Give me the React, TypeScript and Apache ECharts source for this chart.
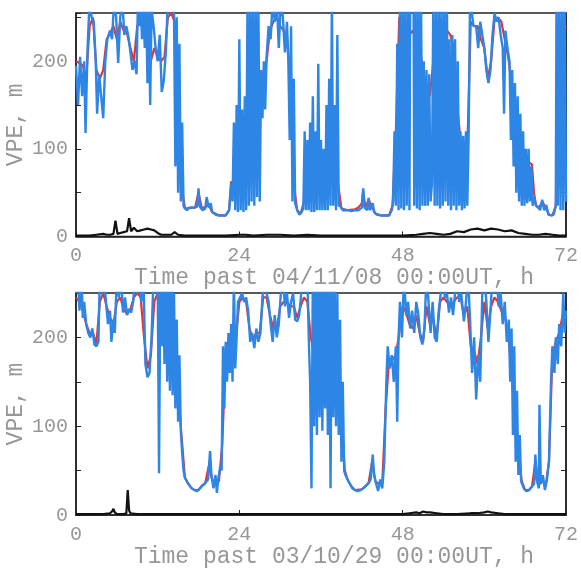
import React, { useEffect, useRef } from "react";
import * as echarts from "echarts";

const xTicks = [0, 24, 48, 72];
const xNames = ["Time past 04/11/08 00:00UT, h", "Time past 03/10/29 00:00UT, h"];
const yName = "VPE, m";

const blueTop: [number, number][] = [[0,195],[0.3,150],[0.6,205],[0.9,160],[1.2,200],[1.4,118],[1.7,215],[2.0,270],[2.3,250],[2.6,245],[2.9,200],[3.1,140],[3.4,185],[3.7,160],[4.0,135],[4.3,200],[4.6,225],[5.0,235],[5.3,225],[5.6,270],[5.9,250],[6.2,198],[6.5,250],[6.8,270],[7.1,230],[7.4,240],[7.7,228],[8.0,210],[8.3,190],[8.6,200],[8.9,185],[9.1,270],[9.3,240],[9.5,270],[9.7,225],[9.9,270],[10.1,215],[10.3,270],[10.5,175],[10.7,270],[10.9,150],[11.1,260],[11.4,240],[11.7,215],[12.0,200],[12.3,230],[12.6,165],[12.9,178],[13.2,210],[13.5,270],[13.8,270],[14.1,270],[14.4,255],[14.6,80],[14.8,250],[15.0,50],[15.2,220],[15.4,40],[15.6,130],[15.8,35],[16.0,32],[16.3,30],[16.6,33],[17.0,33],[17.4,33],[17.8,34],[18.0,55],[18.2,34],[18.6,30],[19.0,32],[19.2,45],[19.5,33],[19.8,38],[20.0,28],[20.5,25],[21.0,24],[21.5,24],[22.0,24],[22.5,30],[22.8,60],[23.0,40],[23.2,130],[23.4,30],[23.6,150],[23.8,28],[24.0,225],[24.2,30],[24.4,145],[24.6,28],[24.8,160],[25.0,30],[25.2,270],[25.4,35],[25.6,270],[25.8,40],[26.0,270],[26.2,35],[26.4,270],[26.6,45],[26.8,270],[27.0,40],[27.2,190],[27.4,135],[27.6,200],[27.8,145],[28.0,205],[28.3,240],[28.6,225],[28.9,270],[29.2,245],[29.5,270],[29.8,215],[30.1,270],[30.4,250],[30.7,210],[31.0,245],[31.2,200],[31.4,110],[31.6,240],[31.8,40],[32.0,180],[32.2,38],[32.5,30],[32.8,25],[33.1,27],[33.4,32],[33.6,120],[33.8,30],[34.0,110],[34.2,30],[34.4,130],[34.6,28],[34.8,160],[35.0,28],[35.2,120],[35.4,30],[35.6,197],[35.8,30],[36.0,110],[36.2,30],[36.4,100],[36.6,30],[36.8,150],[37.0,30],[37.2,180],[37.4,35],[37.6,270],[37.8,35],[38.0,150],[38.2,30],[38.4,230],[38.6,35],[38.8,35],[39.2,30],[39.6,30],[40.0,30],[40.5,29],[41.0,30],[41.5,30],[42.0,33],[42.2,55],[42.4,33],[42.8,30],[43.0,44],[43.2,30],[43.6,38],[43.8,28],[44.2,25],[44.8,24],[45.4,24],[46.0,24],[46.4,30],[46.6,40],[46.8,120],[47.0,35],[47.2,220],[47.4,30],[47.6,270],[47.8,32],[48.0,270],[48.2,30],[48.4,270],[48.6,35],[48.8,270],[49.0,30],[49.1,270],[49.6,270],[49.7,35],[49.9,270],[50.1,32],[50.3,270],[50.5,30],[50.7,270],[50.9,35],[51.1,200],[51.3,35],[51.5,190],[51.7,35],[51.9,185],[52.1,40],[52.3,60],[52.5,270],[52.7,35],[52.9,270],[53.1,35],[53.3,270],[53.5,32],[53.7,270],[53.9,35],[54.1,270],[54.3,40],[54.5,270],[54.7,35],[54.9,225],[55.1,30],[55.3,230],[55.5,35],[55.7,225],[55.9,30],[56.1,200],[56.3,35],[56.5,120],[56.7,30],[56.9,115],[57.1,32],[57.3,120],[57.5,35],[57.7,118],[57.9,270],[58.1,260],[58.4,240],[58.8,240],[59.1,215],[59.4,245],[59.7,230],[60.0,215],[60.3,190],[60.6,175],[60.9,190],[61.2,230],[61.5,255],[61.8,245],[62.1,250],[62.4,230],[62.7,215],[62.9,140],[63.1,235],[63.4,215],[63.7,200],[63.9,110],[64.1,190],[64.3,80],[64.5,175],[64.7,50],[64.9,160],[65.1,40],[65.3,140],[65.5,35],[65.7,120],[65.9,35],[66.1,100],[66.3,38],[66.5,100],[66.7,40],[66.9,80],[67.1,35],[67.3,45],[67.6,35],[67.9,34],[68.2,30],[68.5,42],[68.8,30],[69.1,36],[69.4,25],[69.8,24],[70.2,25],[70.5,35],[70.6,270],[70.8,35],[71.0,270],[71.2,30],[71.4,270],[71.6,30],[71.8,270],[72.0,40]];

const redTop: [number, number][] = [[0,200],[0.5,198],[1,195],[1.5,180],[2,240],[2.5,250],[3,190],[3.5,180],[4,190],[4.5,225],[5,232],[5.5,240],[6,225],[6.5,245],[7,235],[7.5,232],[8,215],[8.5,200],[9,240],[9.5,250],[10,250],[10.5,230],[11,200],[11.5,215],[12,205],[12.5,200],[13,205],[13.5,250],[14,255],[14.5,245],[15,160],[15.5,60],[16,32],[16.5,32],[17,33],[17.5,33],[18,50],[18.5,32],[19,34],[19.5,36],[20,28],[21,24],[22,24],[22.5,30],[22.8,63],[23,55],[23.5,80],[24,90],[24.5,100],[25,140],[25.5,170],[26,190],[26.5,150],[27,150],[27.5,170],[28,200],[28.5,235],[29,245],[29.5,250],[30,240],[30.5,235],[31,225],[31.5,180],[32,60],[32.5,30],[33,26],[33.5,40],[34,80],[34.5,90],[35,100],[35.5,110],[36,90],[36.5,80],[37,100],[37.5,120],[38,100],[38.5,60],[39,32],[40,30],[41,31],[41.5,33],[42,38],[42.2,52],[42.5,33],[43,42],[43.5,34],[44,26],[45,24],[46,24],[46.5,35],[47,120],[47.5,250],[48,250],[48.5,240],[49,230],[49.5,235],[50,225],[50.5,215],[51,190],[51.5,170],[52,160],[52.5,200],[53,245],[53.5,248],[54,240],[54.5,235],[55,230],[55.5,215],[56,150],[56.5,110],[57,90],[57.5,100],[58,245],[58.5,240],[59,240],[59.5,225],[60,215],[60.5,180],[61,200],[61.5,248],[62,250],[62.5,245],[63,225],[63.5,205],[64,175],[64.5,145],[65,120],[65.5,100],[66,90],[66.5,85],[67,82],[67.3,50],[67.6,35],[68,32],[68.5,40],[69,33],[69.5,25],[70,24],[70.5,35],[71,200],[71.5,230],[72,240]];

const blackTop: [number, number][] = [[0,1],[1,1],[2,1],[3,2],[4,3],[4.5,2],[5,2],[5.5,3],[5.8,18],[6.1,3],[6.5,4],[7,5],[7.5,6],[7.8,21],[8.1,6],[8.5,10],[9,6],[9.5,7],[10,8],[10.5,9],[11,8],[11.5,7],[12,4],[12.5,2],[13,2],[14,2],[14.5,5],[15,2],[16,1],[18,1],[20,1],[22,1],[24,2],[25,2],[26,1],[28,2],[30,2],[32,1],[34,2],[36,1],[38,1],[40,1],[42,1],[44,1],[46,1],[48,1],[50,2],[51,3],[52,4],[53,3],[54,2],[55,3],[56,6],[57,5],[58,8],[59,9],[60,7],[61,9],[62,8],[63,6],[64,7],[65,4],[66,3],[67,2],[68,2],[69,3],[70,2],[71,1],[72,1]];

const blueBottom: [number, number][] = [[0,250],[0.3,270],[0.5,230],[0.8,270],[1.0,222],[1.2,240],[1.5,215],[1.8,205],[2.1,200],[2.4,210],[2.7,192],[3.0,190],[3.3,195],[3.5,270],[3.8,250],[4.1,270],[4.4,240],[4.7,215],[5.0,230],[5.2,195],[5.5,220],[5.7,205],[6.0,270],[6.3,245],[6.6,270],[6.9,228],[7.2,245],[7.5,225],[7.8,232],[8.1,228],[8.4,240],[8.7,270],[9.0,250],[9.3,270],[9.6,240],[9.9,270],[10.2,170],[10.5,155],[10.8,160],[11.1,200],[11.4,270],[11.7,250],[12.0,270],[12.2,47],[12.4,270],[12.6,190],[12.8,270],[13.0,170],[13.2,270],[13.4,150],[13.6,270],[13.8,140],[14.0,270],[14.2,135],[14.4,250],[14.6,120],[14.8,220],[15.0,105],[15.2,180],[15.4,95],[15.6,70],[15.8,50],[16.0,42],[16.3,38],[16.6,34],[17.0,30],[17.4,28],[17.8,27],[18.2,30],[18.6,33],[19.0,36],[19.4,40],[19.7,72],[19.9,45],[20.2,30],[20.5,45],[20.7,25],[20.9,40],[21.2,55],[21.4,50],[21.6,190],[21.8,120],[22.0,195],[22.2,150],[22.4,205],[22.6,160],[22.8,215],[23.0,150],[23.2,270],[23.4,165],[23.6,200],[23.8,240],[24.1,245],[24.4,250],[24.7,240],[25.0,245],[25.3,230],[25.6,195],[25.9,205],[26.2,188],[26.5,210],[26.8,195],[27.1,205],[27.4,245],[27.7,270],[28.0,250],[28.3,240],[28.6,215],[28.9,195],[29.2,225],[29.5,200],[29.8,215],[30.1,250],[30.4,270],[30.7,235],[31.0,250],[31.3,222],[31.6,240],[31.9,250],[32.2,220],[32.5,218],[32.8,225],[33.1,250],[33.4,270],[33.7,250],[34.0,270],[34.2,200],[34.4,150],[34.6,30],[34.8,270],[35.0,100],[35.2,270],[35.4,90],[35.6,270],[35.8,110],[36.0,270],[36.2,95],[36.4,270],[36.6,120],[36.8,270],[37.0,90],[37.2,270],[37.4,30],[37.6,270],[37.8,110],[38.0,270],[38.2,100],[38.4,250],[38.6,90],[38.8,220],[39.0,60],[39.2,150],[39.4,50],[39.6,45],[39.9,40],[40.2,36],[40.6,30],[41.0,28],[41.4,27],[41.8,28],[42.2,30],[42.6,33],[43.0,36],[43.3,40],[43.6,68],[43.8,45],[44.1,35],[44.4,27],[44.7,40],[45.0,30],[45.3,60],[45.6,150],[45.8,190],[46.1,165],[46.4,180],[46.7,150],[47.0,190],[47.2,105],[47.4,200],[47.6,240],[47.9,200],[48.2,270],[48.5,225],[48.8,240],[49.1,210],[49.4,230],[49.7,205],[50.0,240],[50.3,226],[50.6,200],[50.9,192],[51.2,210],[51.5,270],[51.8,240],[52.1,205],[52.4,240],[52.7,200],[53.0,195],[53.3,230],[53.6,250],[53.9,270],[54.2,245],[54.5,250],[54.8,228],[55.1,245],[55.4,225],[55.7,250],[56.0,270],[56.3,240],[56.6,250],[57.0,218],[57.3,240],[57.6,270],[57.9,220],[58.2,160],[58.5,200],[58.8,130],[59.1,180],[59.4,150],[59.7,250],[60.0,270],[60.3,240],[60.6,195],[60.9,230],[61.2,270],[61.5,250],[61.8,270],[62.1,235],[62.4,250],[62.7,215],[63.0,240],[63.3,195],[63.6,220],[63.8,150],[64.0,210],[64.2,90],[64.4,190],[64.6,60],[64.8,140],[65.0,45],[65.2,90],[65.4,38],[65.8,30],[66.2,27],[66.6,28],[67.0,32],[67.3,35],[67.5,68],[67.7,40],[68.0,30],[68.1,124],[68.3,35],[68.6,45],[68.9,28],[69.2,40],[69.5,60],[69.8,150],[70.0,190],[70.3,160],[70.5,200],[70.8,170],[71.0,215],[71.3,190],[71.6,250],[71.8,205],[72.0,230]];

const redBottom: [number, number][] = [[0,245],[0.5,240],[1,230],[1.5,215],[2,205],[2.5,205],[3,193],[3.5,240],[4,250],[4.5,235],[5,222],[5.5,215],[6,240],[6.5,245],[7,232],[7.5,226],[8,232],[8.5,245],[9,250],[9.5,245],[10,200],[10.5,165],[11,180],[11.5,240],[12,250],[12.5,230],[13,220],[13.5,215],[14,200],[14.5,175],[15,140],[15.5,90],[16,42],[16.5,35],[17,30],[17.5,28],[18,28],[18.5,33],[19,36],[19.5,55],[20,40],[20.5,35],[21,38],[21.5,80],[22,185],[22.5,195],[23,190],[23.5,200],[24,240],[24.5,245],[25,240],[25.5,210],[26,198],[26.5,205],[27,205],[27.5,245],[28,245],[28.5,225],[29,210],[29.5,210],[30,235],[30.5,240],[31,240],[31.5,235],[32,235],[32.5,222],[33,235],[33.5,245],[34,240],[34.5,200],[35,180],[35.5,200],[36,190],[36.5,185],[37,180],[37.5,190],[38,180],[38.5,150],[39,110],[39.5,50],[40,38],[40.5,32],[41,28],[42,29],[42.5,32],[43,36],[43.5,60],[44,38],[44.5,35],[45,35],[45.5,120],[46,175],[46.5,175],[47,180],[47.5,205],[48,235],[48.5,228],[49,215],[49.5,210],[50,225],[50.5,205],[51,195],[51.5,235],[52,215],[52.5,220],[53,200],[53.5,240],[54,245],[54.5,240],[55,235],[55.5,240],[56,245],[56.5,245],[57,225],[57.5,235],[58,190],[58.5,185],[59,170],[59.5,200],[60,240],[60.5,210],[61,235],[61.5,245],[62,240],[62.5,230],[63,225],[63.5,205],[64,160],[64.5,110],[65,70],[65.5,38],[66,28],[66.5,28],[67,32],[67.5,60],[68,33],[68.5,40],[69,32],[69.5,60],[70,180],[70.5,195],[71,205],[71.5,225],[72,225]];

const blackBottom: [number, number][] = [[0,1],[1,1],[2,1],[3,1],[4,1],[5,2],[5.3,4],[5.5,7],[5.7,3],[6,1],[7,1],[7.4,2],[7.6,28],[7.8,5],[8,2],[9,1],[10,1],[12,1],[14,1],[16,1],[18,1],[20,1],[22,1],[24,1],[26,1],[28,1],[30,1],[32,1],[34,1],[36,1],[38,1],[40,1],[42,1],[44,1],[46,1],[48,1],[49,2],[50,3],[50.5,2],[51,4],[51.5,3],[52,3],[53,2],[54,1],[56,1],[58,2],[59,2],[60,3],[60.5,4],[61,3],[62,2],[63,1],[66,1],[68,1],[70,1],[72,1]];

const yMax = [255, 250];

const FONT = "Liberation Mono";
const LABEL_COLOR = "#979797";
const AXIS_COLOR = "#222";

export default function App() {
  const ref = useRef<HTMLDivElement>(null);
  useEffect(() => {
    if (!ref.current) return;
    const chart = echarts.init(ref.current, null, { renderer: "svg" });
    const grids = [
      { left: 76, right: 15, top: 13, height: 223.5 },
      { left: 76, right: 15, top: 293, height: 222 },
    ].map((g) => ({
      ...g,
      show: true,
      containLabel: false,
      outerBoundsMode: "none",
      borderColor: AXIS_COLOR,
      borderWidth: 1.5,
      backgroundColor: "transparent",
    }));

    const xAxes = [0, 1].map((i) => ({
      type: "value",
      gridIndex: i,
      min: 0,
      max: 72,
      interval: 24,
      name: xNames[i],
      nameLocation: "middle",
      nameGap: 30,
      nameMoveOverlap: false,
      nameTextStyle: { fontFamily: FONT, fontSize: 23, color: LABEL_COLOR, verticalAlign: "top", padding: [0, 0, 0, 26] },
      axisLine: { show: true, lineStyle: { color: AXIS_COLOR, width: 1.5 } },
      axisTick: { show: true, inside: true, length: 5, lineStyle: { color: AXIS_COLOR } },
      axisLabel: { fontFamily: FONT, fontSize: 20, color: LABEL_COLOR, margin: 9, formatter: (v: number) => (xTicks.includes(v) ? String(v) : "") },
      splitLine: { show: false },
    }));

    const yAxes: any[] = [];
    [0, 1].forEach((i) => {
      yAxes.push({
        type: "value",
        gridIndex: i,
        position: "left",
        min: 0,
        max: yMax[i],
        interval: 50,
        name: yName,
        nameLocation: "middle",
        nameGap: 49,
        nameMoveOverlap: false,
        nameTextStyle: { fontFamily: FONT, fontSize: 23, color: LABEL_COLOR },
        axisLine: { show: true, lineStyle: { color: AXIS_COLOR, width: 1.5 } },
        axisTick: { show: true, inside: true, length: 5, lineStyle: { color: AXIS_COLOR } },
        axisLabel: { fontFamily: FONT, fontSize: 20, color: LABEL_COLOR, margin: 8, formatter: (v: number) => (v % 100 === 0 ? String(v) : "") },
        splitLine: { show: false },
      });
    });
    [0, 1].forEach((i) => {
      yAxes.push({
        type: "value",
        gridIndex: i,
        position: "right",
        min: 0,
        max: yMax[i],
        interval: 50,
        axisLine: { show: true, lineStyle: { color: AXIS_COLOR, width: 1.5 } },
        axisTick: { show: true, inside: true, length: 5, lineStyle: { color: AXIS_COLOR } },
        axisLabel: { show: false },
        splitLine: { show: false },
      });
    });

    const mk = (data: [number, number][], i: number, color: string, width: number, z: number) => ({
      type: "line",
      xAxisIndex: i,
      yAxisIndex: i,
      data,
      symbol: "none",
      showSymbol: false,
      clip: true,
      z,
      lineStyle: { color, width },
      emphasis: { disabled: true },
    });

    chart.setOption({
      animation: false,
      grid: grids,
      xAxis: xAxes,
      yAxis: yAxes,
      series: [
        mk(redTop, 0, "#e0353d", 2.2, 2),
        mk(blueTop, 0, "#2d86e6", 2.4, 3),
        mk(blackTop, 0, "#111", 2.2, 4),
        mk(redBottom, 1, "#e0353d", 2.2, 2),
        mk(blueBottom, 1, "#2d86e6", 2.4, 3),
        mk(blackBottom, 1, "#111", 2.2, 4),
      ],
    });
    return () => chart.dispose();
  }, []);
  return <div ref={ref} style={{ position: "fixed", left: 0, top: 0, width: 581, height: 568 }} />;
}
